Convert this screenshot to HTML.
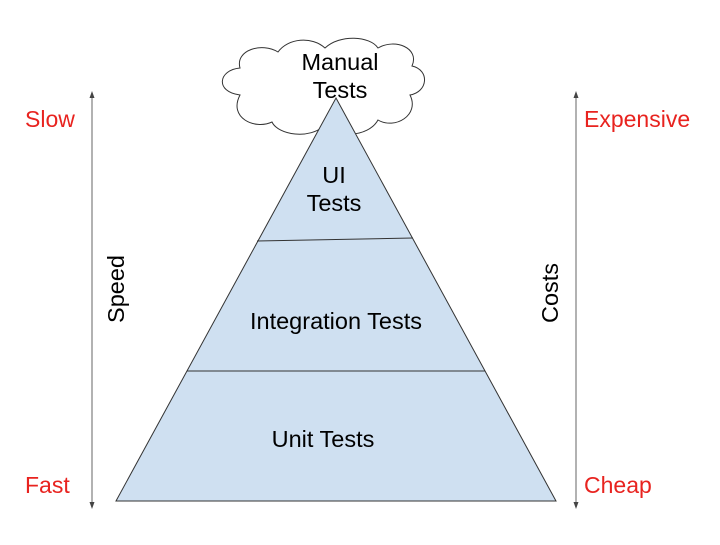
<!DOCTYPE html>
<html><head><style>
body{margin:0;background:#fff;width:720px;height:540px;overflow:hidden}
svg text{font-family:"Liberation Sans",sans-serif}
</style></head><body>
<svg width="720" height="540" viewBox="0 0 720 540">
<path d="M240,95 C215,92 218,70 240,68 C235,50 262,42 278,52 C288,38 312,36 325,48 C340,34 370,36 378,48 C395,38 420,48 412,66 C430,70 428,92 410,95 C420,115 395,130 378,120 C368,138 335,138 325,125 C310,140 278,135 272,122 C255,130 228,118 240,95 Z" fill="#fff" stroke="#333" stroke-width="1"/>
<polygon points="336,98 556,501 116,501" fill="#cfe0f1" stroke="#333" stroke-width="1"/>
<line x1="257" y1="241" x2="413" y2="238" stroke="#333"/>
<line x1="187" y1="371" x2="485" y2="371" stroke="#333"/>
<line x1="92" y1="95" x2="92" y2="505" stroke="#666"/>
<polygon points="92,91 89.5,98 94.5,98" fill="#444"/>
<polygon points="92,509 89.5,502 94.5,502" fill="#444"/>
<line x1="576" y1="95" x2="576" y2="505" stroke="#666"/>
<polygon points="576,91 573.5,98 578.5,98" fill="#444"/>
<polygon points="576,509 573.5,502 578.5,502" fill="#444"/>
<g font-size="23.5" fill="#000" text-anchor="middle">
<text x="340" y="70">Manual</text>
<text x="340" y="98">Tests</text>
<text x="334" y="183">UI</text>
<text x="334" y="211">Tests</text>
<text x="336" y="329">Integration Tests</text>
<text x="323" y="447">Unit Tests</text>
<text transform="translate(124,289) rotate(-90)">Speed</text>
<text transform="translate(558,293) rotate(-90)">Costs</text>
</g>
<g font-size="23" fill="#e8231f">
<text x="25" y="127">Slow</text>
<text x="25" y="493">Fast</text>
<text x="584" y="127">Expensive</text>
<text x="584" y="493">Cheap</text>
</g>
</svg>
</body></html>
